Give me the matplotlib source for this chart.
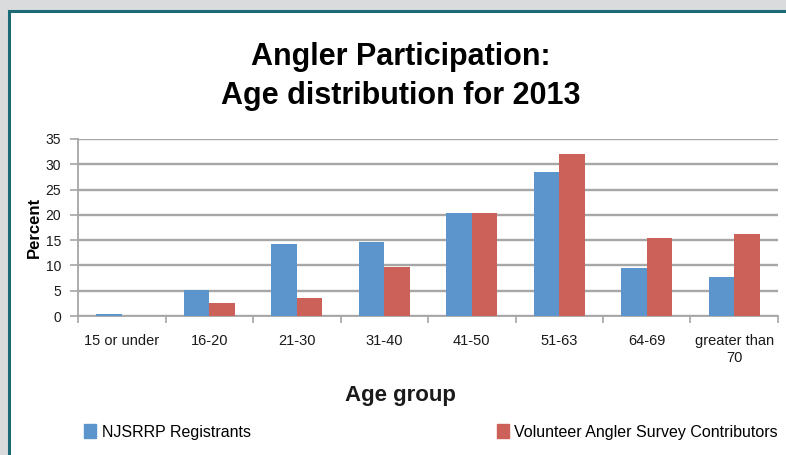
import numpy as np
import matplotlib.pyplot as plt
from matplotlib.patches import Rectangle, Patch

plt.rcParams['font.family'] = ['Liberation Sans', 'DejaVu Sans']

age_groups = ['15 or under', '16-20', '21-30', '31-40', '41-50', '51-63', '64-69',
              'greater than\n70']
njsrrp = [0.4, 5.1, 14.2, 14.6, 20.3, 28.5, 9.5, 7.8]
volunteer = [0.0, 2.5, 3.5, 9.6, 20.3, 32.0, 15.5, 16.3]

blue = '#5b95cb'
red = '#cc615a'
grid_col = '#a6a6a6'
text_col = '#1a1a1a'

W, H = 786, 455
fig = plt.figure(figsize=(W / 100, H / 100), dpi=100)
fig.patch.set_facecolor('#d9dbdc')

# white card with teal border
card = Rectangle((9 / W, -0.1), 1.1, 1 - 11 / H + 0.1, transform=fig.transFigure,
                 facecolor='white', edgecolor='#1d6a77', linewidth=2.2, zorder=-10)
fig.patches.append(card)

ax = fig.add_axes([78 / W, 1 - 316 / H, 700 / W, 177 / H])
ax.set_facecolor('none')

x = np.arange(len(age_groups))
bw = 0.29
ax.bar(x - bw / 2, njsrrp, bw, color=blue, zorder=3)
ax.bar(x + bw / 2, volunteer, bw, color=red, zorder=3)

ax.set_xlim(-0.5, len(age_groups) - 0.5)
ax.set_ylim(0, 35)
ax.set_yticks(range(0, 36, 5))
ax.yaxis.grid(True, color=grid_col, linewidth=1.7, zorder=0)
ax.set_axisbelow(True)

for s in ['top', 'right']:
    ax.spines[s].set_visible(False)
for s in ['left', 'bottom']:
    ax.spines[s].set_color(grid_col)
    ax.spines[s].set_linewidth(1.3)

ax.set_xticks(x)
ax.set_xticklabels(age_groups, fontsize=10.5, color=text_col, linespacing=1.25)
ax.set_xticks(np.arange(-0.5, len(age_groups), 1), minor=True)
ax.tick_params(axis='x', which='major', length=0, pad=13)
ax.tick_params(axis='x', which='minor', length=5, color=grid_col, width=1.2)
ax.tick_params(axis='y', length=6, color=grid_col, width=1.2, labelsize=10,
               labelcolor=text_col, pad=6)

ax.set_ylabel('Percent', fontsize=12, fontweight='bold', labelpad=2.5)

fig.text(400 / W, 1 - 396 / H, 'Age group', ha='center', va='center',
         fontsize=16, fontweight='bold', color=text_col)

fig.text(401 / W, 1 - 57 / H, 'Angler Participation:', ha='center', va='center',
         fontsize=22, fontweight='bold')
fig.text(401 / W, 1 - 96 / H, 'Age distribution for 2013', ha='center', va='center',
         fontsize=22, fontweight='bold')

leg_kw = dict(frameon=False, fontsize=11.5, handlelength=0.75, handleheight=0.9,
              handletextpad=0.35, borderaxespad=0, borderpad=0)
fig.legend(handles=[Patch(color=blue, label='NJSRRP Registrants')],
           loc='center left', bbox_to_anchor=(84 / W, 1 - 432 / H), **leg_kw)
fig.legend(handles=[Patch(color=red, label='Volunteer Angler Survey Contributors')],
           loc='center right', bbox_to_anchor=(778 / W, 1 - 432 / H), **leg_kw)

fig.savefig('out.png', dpi=100, facecolor=fig.get_facecolor())
